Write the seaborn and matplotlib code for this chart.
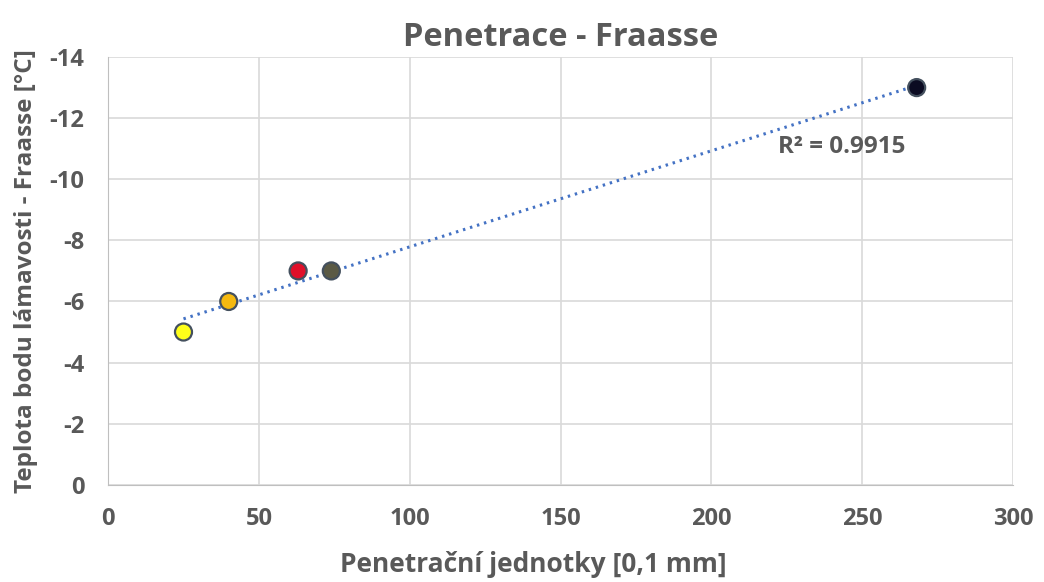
import numpy as np
import pandas as pd
import matplotlib
matplotlib.use("Agg")
import matplotlib.pyplot as plt
import seaborn as sns

# data
penetrace = [25, 40, 63, 74, 268]
fraasse = [-5, -6, -7, -7, -13]
point_colors = ["#FFFF1A", "#F5B90F", "#E0102A", "#5B5A45", "#0B0B22"]
x_ticks = [0, 50, 100, 150, 200, 250, 300]
y_ticks = [0, -2, -4, -6, -8, -10, -12, -14]

df = pd.DataFrame({"x": penetrace, "y": fraasse, "id": range(len(penetrace))})

sns.set_style("whitegrid")
plt.rcParams["font.family"] = ["Open Sans", "DejaVu Sans"]
grey = "#595959"

fig = plt.figure(figsize=(10.44, 5.82), dpi=100)
ax = fig.add_axes([0.1035, 0.167, 0.867, 0.735])

# linear trendline
k, q = np.polyfit(penetrace, fraasse, 1)
xl = np.array([min(penetrace), max(penetrace)])
ax.plot(xl, k * xl + q, color="#4472C4", lw=2.2, ls=(0, (0.8, 1.6)), zorder=2)

sns.scatterplot(data=df, x="x", y="y", hue="id", palette=point_colors, s=150,
                edgecolor="#44505E", linewidth=1.6, legend=False, ax=ax, zorder=3)

ax.set_xlim(0, 300)
ax.set_ylim(0, -14)
ax.set_xticks(x_ticks)
ax.set_yticks(y_ticks)
ax.set_xticklabels([str(t) for t in x_ticks])
ax.set_yticklabels([str(t) for t in y_ticks])
ax.grid(True, color="#D9D9D9", lw=1.2)
for s in ax.spines.values():
    s.set_visible(False)
ax.spines["bottom"].set_visible(True)
ax.spines["bottom"].set_color("#BFBFBF")
ax.spines["left"].set_visible(True)
ax.spines["left"].set_color("#BFBFBF")
ax.tick_params(colors=grey, labelsize=17, length=0)
ax.tick_params(axis="x", pad=16)
ax.tick_params(axis="y", pad=17)
for lab in ax.get_xticklabels() + ax.get_yticklabels():
    lab.set_fontweight("bold")

ax.set_xlabel("Penetrační jednotky [0,1 mm]", fontsize=19, fontweight="bold", color=grey)
ax.set_ylabel("Teplota bodu lámavosti - Fraasse [°C]", fontsize=17.5, fontweight="bold", color=grey)
ax.xaxis.set_label_coords(0.47, -0.155)
ax.yaxis.set_label_coords(-0.077, 0.5)
ax.set_title("Penetrace - Fraasse", fontsize=23.5, fontweight="bold", color=grey, pad=8)
ax.text(222, -11.05, "R² = 0.9915", fontsize=17.5, fontweight="bold", color=grey, va="center")

fig.savefig("out.png", dpi=100)
